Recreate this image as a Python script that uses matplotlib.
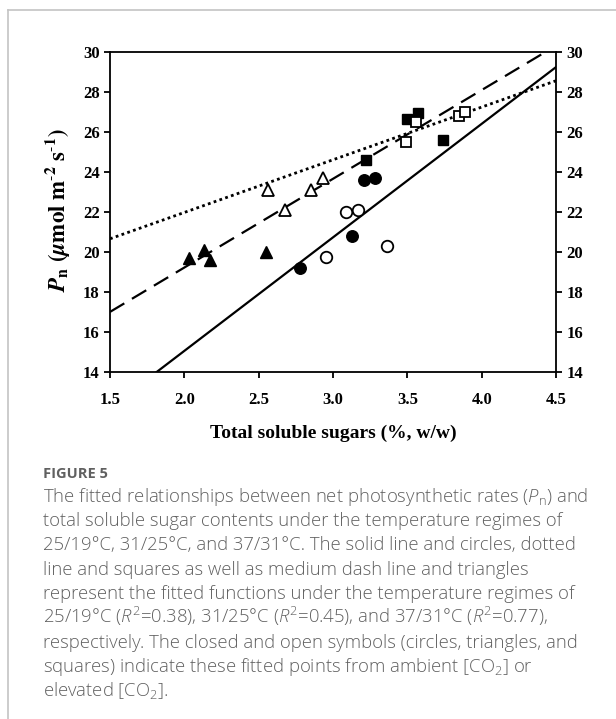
import matplotlib
matplotlib.use("Agg")
import matplotlib.pyplot as plt
import numpy as np
from matplotlib.lines import Line2D

plt.rcParams['mathtext.fontset'] = 'custom'
plt.rcParams['mathtext.rm'] = 'Open Sans:light'
plt.rcParams['mathtext.it'] = 'Open Sans:italic:light'
plt.rcParams['mathtext.bf'] = 'Open Sans:bold'

# ---- data ----
# 25/19 C : circles, solid line
circ_closed_x = [2.78, 3.13, 3.21, 3.28]
circ_closed_y = [19.2, 20.8, 23.6, 23.7]
circ_open_x = [2.95, 3.09, 3.17, 3.36]
circ_open_y = [19.75, 22.0, 22.1, 20.3]
# 31/25 C : squares, dotted line
sq_closed_x = [3.22, 3.50, 3.57, 3.74]
sq_closed_y = [24.6, 26.65, 26.95, 25.6]
sq_open_x = [3.49, 3.56, 3.85, 3.89]
sq_open_y = [25.5, 26.5, 26.8, 27.0]
# 37/31 C : triangles, dashed line
tri_closed_x = [2.03, 2.13, 2.17, 2.55]
tri_closed_y = [19.7, 20.1, 19.6, 20.0]
tri_open_x = [2.56, 2.68, 2.85, 2.93]
tri_open_y = [23.1, 22.1, 23.1, 23.7]

# fitted lines: intercept, slope
fit_solid = (3.72, 5.667)
fit_dotted = (16.705, 2.63)
fit_dashed = (10.355, 4.43)

x_ticks = [1.5, 2.0, 2.5, 3.0, 3.5, 4.0, 4.5]
y_ticks = [14, 16, 18, 20, 22, 24, 26, 28, 30]

caption_title = "FIGURE 5"
caption_lines = [
    r"The fitted relationships between net photosynthetic rates ($\mathit{P}_\mathrm{n}$) and",
    "total soluble sugar contents under the temperature regimes of",
    "25/19°C, 31/25°C, and 37/31°C. The solid line and circles, dotted",
    "line and squares as well as medium dash line and triangles",
    "represent the fitted functions under the temperature regimes of",
    r"25/19°C ($\mathit{R}^2$=0.38), 31/25°C ($\mathit{R}^2$=0.45), and 37/31°C ($\mathit{R}^2$=0.77),",
    "respectively. The closed and open symbols (circles, triangles, and",
    r"squares) indicate these fitted points from ambient [CO$_2$] or",
    r"elevated [CO$_2$].",
]

# ---- figure ----
W, H = 616, 719
fig = plt.figure(figsize=(W / 100, H / 100), dpi=100)

# grey page border (top and left)
fig.add_artist(Line2D([8 / W, 1.0], [1 - 10 / H, 1 - 10 / H], color='#c4c4c4', lw=1.2))
fig.add_artist(Line2D([8 / W, 8 / W], [1 - 10 / H, 0], color='#c4c4c4', lw=1.2))

ax = fig.add_axes([110 / W, 1 - 372 / H, 446 / W, 320.5 / H])
ax.set_xlim(1.5, 4.5)
ax.set_ylim(14, 30)

xs = np.linspace(1.5, 4.5, 200)
ax.plot(xs, fit_solid[0] + fit_solid[1] * xs, color='black', lw=1.6, zorder=2)
ax.plot(xs, fit_dashed[0] + fit_dashed[1] * xs, color='black', lw=1.6,
        linestyle=(0, (7.5, 4)), zorder=2)
ax.plot(xs, fit_dotted[0] + fit_dotted[1] * xs, color='black', lw=2.0,
        linestyle=(0, (1, 1.2)), zorder=2)

ms_c, ms_t, ms_s = 8.3, 8.6, 7.4
ax.plot(circ_closed_x, circ_closed_y, 'o', ms=ms_c, mfc='black', mec='black', zorder=3)
ax.plot(tri_closed_x, tri_closed_y, '^', ms=ms_t, mfc='black', mec='black', zorder=3)
ax.plot(sq_closed_x, sq_closed_y, 's', ms=ms_s, mfc='black', mec='black', zorder=3)
ax.plot(circ_open_x, circ_open_y, 'o', ms=ms_c, mfc='white', mec='black', mew=1.3, zorder=4)
ax.plot(tri_open_x, tri_open_y, '^', ms=ms_t, mfc='white', mec='black', mew=1.3, zorder=4)
ax.plot(sq_open_x, sq_open_y, 's', ms=ms_s, mfc='white', mec='black', mew=1.3, zorder=4)

for s in ax.spines.values():
    s.set_linewidth(1.3)

ax.set_xticks(x_ticks)
ax.set_xticklabels([f"{v:.1f}" for v in x_ticks])
ax.set_yticks(y_ticks)
ax.set_yticklabels([str(v) for v in y_ticks])
ax.tick_params(direction='out', length=4.5, width=1.3, right=True, labelright=True,
               top=False, pad=3)
for lab in ax.get_xticklabels() + ax.get_yticklabels():
    lab.set_fontfamily('Liberation Serif')
    lab.set_fontweight('bold')
    lab.set_fontsize(12)
for t in ax.yaxis.get_major_ticks():
    t.label2.set_fontfamily('Liberation Serif')
    t.label2.set_fontweight('bold')
    t.label2.set_fontsize(12)
ax.tick_params(axis='x', pad=10)

ax.set_xlabel("Total soluble sugars (%, w/w)", fontfamily='Liberation Serif',
              fontweight='bold', fontsize=14, labelpad=12)
fig.text(57 / W, 1 - 210 / H,
         r"$\mathbfit{P}_{\mathbf{n}}\ \mathbf{(}\mathbfit{\mu}\mathbf{mol\ m^{\text{-}2}\ s^{\text{-}1})}$",
         rotation=90, ha='center', va='center', fontsize=16.5, math_fontfamily='stix')

# caption
grey = '#606060'
fig.text(43 / W, 1 - 478 / H, caption_title, fontfamily='Open Sans', fontweight='bold',
         fontsize=10.5, color=grey, ha='left', va='baseline')
for i, line in enumerate(caption_lines):
    fig.text(43 / W, 1 - (502 + i * 24.25) / H, line, fontfamily='Open Sans',
             fontweight='light', fontsize=13.3, color=grey, ha='left', va='baseline')

fig.savefig("out.png", dpi=100)
